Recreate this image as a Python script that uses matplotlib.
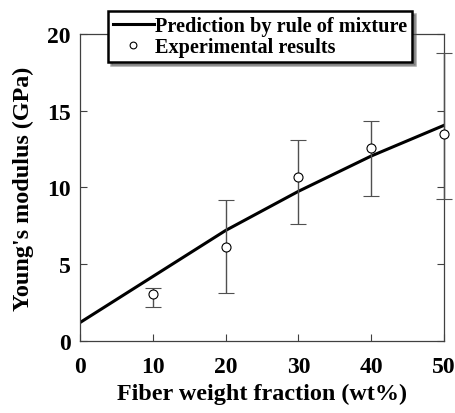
import matplotlib.pyplot as plt
import numpy as np

plt.rcParams['font.family'] = 'Liberation Serif'
plt.rcParams['font.weight'] = 'bold'

# rule of mixture prediction
x_pred = [0, 10, 20, 30, 40, 50]
y_pred = [1.2, 4.2, 7.2, 9.75, 12.05, 14.05]

# experimental results (mean, lower and upper end of the error bar)
x_exp = [10, 20, 30, 40, 50]
y_exp = [3.05, 6.1, 10.7, 12.6, 13.5]
y_low = [2.2, 3.1, 7.6, 9.45, 9.25]
y_high = [3.45, 9.2, 13.1, 14.3, 18.75]

yerr = [np.array(y_exp) - np.array(y_low), np.array(y_high) - np.array(y_exp)]

fig = plt.figure(figsize=(4.56, 4.14), dpi=100)
ax = fig.add_axes([0.1754, 0.1739, 0.7983, 0.7416])

ax.plot(x_pred, y_pred, color='black', lw=2.2, label='Prediction by rule of mixture')
ax.errorbar(x_exp, y_exp, yerr=yerr, fmt='o', mfc='white', mec='black', mew=0.8,
            ms=6.5, ecolor='#505050', elinewidth=1.0, capsize=6, capthick=1.0,
            clip_on=False, label='Experimental results', zorder=3)

ax.set_xlim(0, 50)
ax.set_ylim(0, 20)
ax.set_xticks([0, 10, 20, 30, 40, 50])
ax.set_yticks([0, 5, 10, 15, 20])
ax.tick_params(direction='in', length=5, width=0.8, labelsize=17, color='#404040',
               right=True, top=False)
ax.tick_params(axis='x', pad=10.5)
ax.tick_params(axis='y', pad=6.5)
for s in ax.spines.values():
    s.set_linewidth(0.9)
    s.set_color('#404040')

ax.set_xlabel('Fiber weight fraction (wt%)', fontsize=17.4, fontweight='bold', labelpad=4.5)
ax.set_ylabel("Young's modulus (GPa)", fontsize=17.4, fontweight='bold', labelpad=9.5)

handles, labels = ax.get_legend_handles_labels()
leg = ax.legend([handles[0], handles[1][0]], labels, loc='center',
                bbox_to_anchor=(0.494, 0.992), fontsize=14.6, fancybox=False,
                shadow=True, framealpha=1, edgecolor='black', handlelength=2.0,
                handletextpad=0.05, borderpad=0.25, labelspacing=0.05,
                borderaxespad=0, markerscale=0.75)
leg.get_frame().set_linewidth(1.8)
leg.set_zorder(5)
for t in leg.get_texts():
    t.set_fontweight('bold')

fig.savefig('out.png', dpi=100)
